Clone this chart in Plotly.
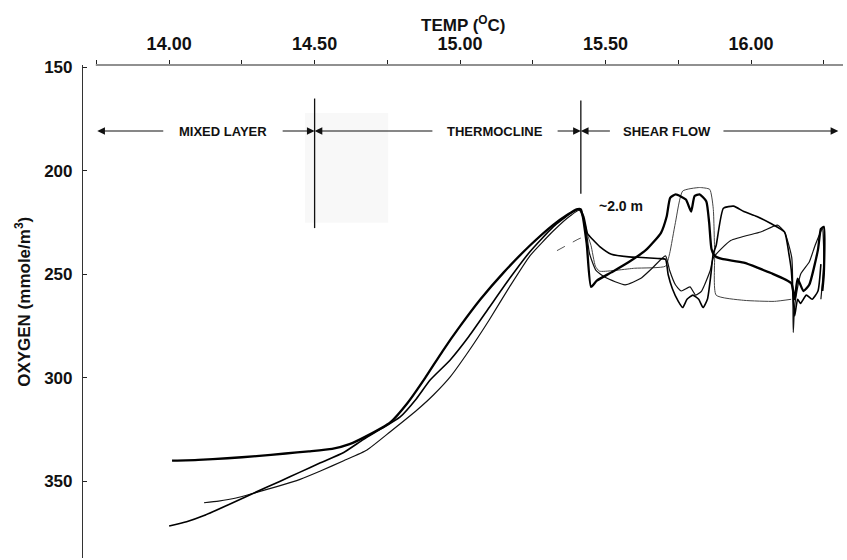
import plotly.graph_objects as go

# ---------------- data ----------------
x_ticks = [14.00, 14.50, 15.00, 15.50, 16.00]
x_ticktext = ["14.00", "14.50", "15.00", "15.50", "16.00"]
x_minor = [13.75, 14.25, 14.75, 15.25, 15.75, 16.25]
y_ticks = [150, 200, 250, 300, 350]

# profile A (heavy line)
temp_a = [14.01, 14.10, 14.20, 14.30, 14.40, 14.48, 14.56, 14.62, 14.68, 14.76, 14.82, 14.88,
          14.94, 15.00, 15.07, 15.15, 15.24, 15.32, 15.37, 15.40, 15.415, 15.435, 15.45,
          15.47, 15.52, 15.58, 15.64, 15.69, 15.71, 15.722, 15.741, 15.776, 15.794, 15.806,
          15.823, 15.846, 15.856, 15.864, 15.875, 15.90, 15.975, 16.068, 16.138, 16.15,
          16.16, 16.18, 16.20, 16.23, 16.24, 16.25, 16.25, 16.245]
oxy_a = [340, 339.6, 338.8, 337.8, 336.5, 335.5, 334.3, 332, 328, 321.5, 312, 300,
         287, 275, 262, 249, 236, 226, 221, 218.5, 218.5, 235, 256,
         253, 249, 244, 238, 230, 222, 213, 211.3, 213.8, 219.6, 212.1,
         211.3, 214.6, 225, 237.7, 241, 242.5, 244.3, 249.3, 254.2, 262,
         252, 258, 255, 238, 228, 227, 250, 258]

# profile C (medium line)
temp_c = [14.00, 14.06, 14.12, 14.20, 14.29, 14.38, 14.45, 14.52, 14.60, 14.667, 14.73, 14.794,
          14.85, 14.897, 14.966, 15.03, 15.10, 15.17, 15.24, 15.32, 15.38, 15.41, 15.425,
          15.438, 15.455, 15.48, 15.52, 15.58, 15.625, 15.68, 15.706, 15.715, 15.73, 15.75,
          15.765, 15.78, 15.80, 15.82, 15.835, 15.85, 15.862, 15.87, 15.88, 15.905, 15.94,
          15.975, 16.02, 16.068, 16.115, 16.13, 16.138, 16.145, 16.15, 16.16, 16.17, 16.19,
          16.21, 16.23, 16.24]
oxy_c = [371.5, 369.5, 366.5, 361.5, 355.7, 350, 345.5, 341, 336, 329.8, 324.5, 318.8,
         310, 301, 291.3, 280, 266, 252, 239, 227, 220.5, 218.5, 222,
         230.3, 233, 236.5, 240.2, 241.5, 241.8, 242.3, 242.7, 250, 257, 263,
         266, 262, 260, 262, 266, 262, 250, 240, 236, 218, 217,
         219.6, 222, 225.4, 229.5, 240, 247.6, 262, 270, 262, 264, 260,
         262, 258, 245]

# profile B (light line)
temp_b = [14.12, 14.17, 14.23, 14.29, 14.37, 14.45, 14.52, 14.60, 14.68, 14.76, 14.852, 14.91,
          14.966, 15.03, 15.10, 15.17, 15.24, 15.32, 15.38, 15.41, 15.43, 15.445, 15.467,
          15.50, 15.567, 15.62, 15.66, 15.706, 15.72, 15.74, 15.76, 15.79, 15.81, 15.83,
          15.86, 15.87, 15.93, 16.033, 16.091, 16.115, 16.14, 16.145, 16.15, 16.17, 16.20,
          16.22, 16.245, 16.25, 16.24]
oxy_b = [360.3, 359.5, 358, 355.7, 352.5, 349, 345, 340, 334.8, 326, 315.5, 308,
         299.5, 287, 272, 256, 241, 229, 221.5, 219, 226, 240, 248,
         251.5, 255, 252, 247, 241, 248, 255, 258, 256, 260, 258,
         248, 242, 233.6, 229.5, 226.2, 229.5, 242, 278, 265, 250, 244,
         236, 228, 245, 262]

# profile D (faint line, partly dashed)
temp_d_dash = [15.333, 15.37, 15.405, 15.438]
oxy_d_dash = [238.5, 235.5, 233, 231]
temp_d = [15.438, 15.45, 15.465, 15.479, 15.60, 15.706, 15.72, 15.74, 15.765, 15.823, 15.858,
          15.87, 15.875, 15.88, 15.975, 16.08, 16.138]
oxy_d = [231, 236, 246, 248.4, 247, 246, 240, 225, 209.7, 208, 208.9,
         218, 240, 260, 262.5, 263, 262]

# zone annotations
arrow_level = 180.7
zone_bounds = [13.753, 14.50, 15.415, 16.30]
zone_labels = ["MIXED LAYER", "THERMOCLINE", "SHEAR FLOW"]
zone_label_x = [14.185, 15.12, 15.71]
zone_label_half = [0.20, 0.21, 0.19]
divider_x = [14.50, 15.415]
divider_top = [165, 166]
divider_bottom = [227.6, 211]

# ---------------- figure ----------------
FONT = "Liberation Sans, Arial, Helvetica, sans-serif"
INK = "#111111"
fig = go.Figure()

fig.add_trace(go.Scatter(x=temp_d_dash, y=oxy_d_dash, mode="lines",
                         line=dict(color="#555555", width=1, dash="dash"), hoverinfo="skip"))
fig.add_trace(go.Scatter(x=temp_d, y=oxy_d, mode="lines",
                         line=dict(color="#444444", width=1, shape="spline", smoothing=0.5),
                         hoverinfo="skip"))
fig.add_trace(go.Scatter(x=temp_b, y=oxy_b, mode="lines",
                         line=dict(color="#111111", width=1.2, shape="spline", smoothing=0.5),
                         hoverinfo="skip"))
fig.add_trace(go.Scatter(x=temp_c, y=oxy_c, mode="lines",
                         line=dict(color="#000000", width=1.6, shape="spline", smoothing=0.5),
                         hoverinfo="skip"))
fig.add_trace(go.Scatter(x=temp_a, y=oxy_a, mode="lines",
                         line=dict(color="#000000", width=2.3, shape="spline", smoothing=0.5),
                         hoverinfo="skip"))

shapes = []
# faint paste-up artifact
shapes.append(dict(type="rect", xref="x", yref="y", x0=14.467, x1=14.753, y0=172, y1=225,
                   fillcolor="#f8f8f8", line=dict(width=0), layer="below"))
# top axis line (starts at first minor tick)
shapes.append(dict(type="line", xref="x", yref="paper", x0=13.748, x1=16.316, y0=1, y1=1,
                   line=dict(color="#222222", width=1.2)))
for xd, yt, yb in zip(divider_x, divider_top, divider_bottom):
    shapes.append(dict(type="line", xref="x", yref="y", x0=xd, x1=xd, y0=yt, y1=yb,
                       line=dict(color=INK, width=1.3)))

annotations = []
for i, lab in enumerate(zone_labels):
    left, right = zone_bounds[i], zone_bounds[i + 1]
    cx, hw = zone_label_x[i], zone_label_half[i]
    annotations.append(dict(x=cx, y=arrow_level, xref="x", yref="y", text="<b>" + lab + "</b>",
                            showarrow=False, font=dict(family=FONT, size=13, color=INK),
                            xanchor="center", yanchor="middle"))
    annotations.append(dict(x=left, y=arrow_level, ax=cx - hw, ay=arrow_level, xref="x", yref="y",
                            axref="x", ayref="y", text="", showarrow=True, arrowhead=2,
                            arrowsize=1.4, arrowwidth=1.1, arrowcolor=INK))
    annotations.append(dict(x=right, y=arrow_level, ax=cx + hw, ay=arrow_level, xref="x", yref="y",
                            axref="x", ayref="y", text="", showarrow=True, arrowhead=2,
                            arrowsize=1.4, arrowwidth=1.1, arrowcolor=INK))

annotations.append(dict(x=15.553, y=217, xref="x", yref="y", text="<b>~2.0 m</b>", showarrow=False,
                        font=dict(family=FONT, size=14, color=INK),
                        xanchor="center", yanchor="middle"))
annotations.append(dict(x=0.5, y=1 + (65 - 24) / 493, xref="paper", yref="paper",
                        text="<b>TEMP (<sup>O</sup>C)</b>",
                        showarrow=False, font=dict(family=FONT, size=17, color=INK),
                        xanchor="center", yanchor="middle"))
annotations.append(dict(x=-0.08, y=0.52, xref="paper", yref="paper",
                        text="<b>OXYGEN (mmole/m<sup>3</sup>)</b>", textangle=-90, showarrow=False,
                        font=dict(family=FONT, size=17, color=INK),
                        xanchor="center", yanchor="middle"))

fig.update_layout(
    width=847, height=560,
    margin=dict(l=83, r=4, t=65, b=2, pad=0),
    paper_bgcolor="white", plot_bgcolor="white",
    showlegend=False,
    shapes=shapes, annotations=annotations,
    font=dict(family=FONT, color=INK),
    xaxis=dict(side="top", range=[13.704, 16.316], showgrid=False, zeroline=False,
               showline=False, tickmode="array", tickvals=x_ticks,
               ticktext=["<b>" + t + "</b>" for t in x_ticktext],
               ticks="outside", ticklen=4, tickwidth=1, tickcolor="#222222",
               minor=dict(tickmode="array", tickvals=x_minor, ticks="outside", ticklen=4,
                          tickwidth=1, tickcolor="#222222", showgrid=False),
               tickfont=dict(family=FONT, size=18, color=INK), ticklabelstandoff=3),
    yaxis=dict(range=[387, 148.8], showgrid=False, zeroline=False, showline=True,
               linecolor="#333333", linewidth=1.2, tickmode="array", tickvals=y_ticks,
               ticktext=["<b>" + str(v) + "</b>" for v in y_ticks],
               ticks="inside", ticklen=4, tickwidth=1, tickcolor="#222222",
               tickfont=dict(family=FONT, size=17, color=INK), ticklabelstandoff=6),
)

fig.write_html("out.html")
